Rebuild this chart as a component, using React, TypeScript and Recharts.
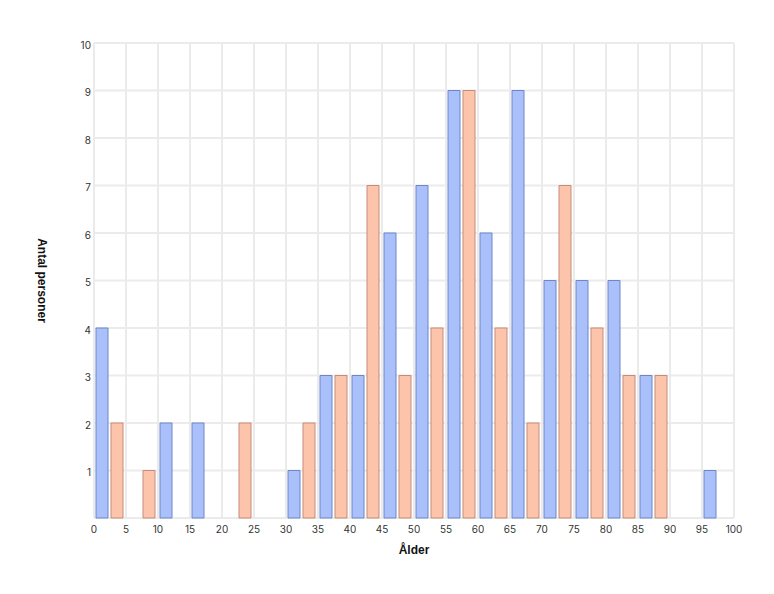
import React from "react";
import { Bar, BarChart, CartesianGrid, Label, XAxis, YAxis } from "recharts";

// age bins, 5 years each (midpoint used for the numeric axis)
const binStart = [0, 5, 10, 15, 20, 25, 30, 35, 40, 45, 50, 55, 60, 65, 70, 75, 80, 85, 90, 95];
const blueCounts = [4, 0, 2, 2, 0, 0, 1, 3, 3, 6, 7, 9, 6, 9, 5, 5, 5, 3, 0, 1];
const orangeCounts = [2, 1, 0, 0, 2, 0, 2, 3, 7, 3, 4, 9, 4, 2, 7, 4, 3, 3, 0, 0];
const xTicks = [0, 5, 10, 15, 20, 25, 30, 35, 40, 45, 50, 55, 60, 65, 70, 75, 80, 85, 90, 95, 100];
const yTicks = [0, 1, 2, 3, 4, 5, 6, 7, 8, 9, 10];

const BLUE = "#aac0fa";
const BLUE_EDGE = "#6e86c8";
const ORANGE = "#fdc4ac";
const ORANGE_EDGE = "#c68b78";
const GRID = "#ebebeb";
const TICK = "#333";
const FONT = "Inter, Roboto, sans-serif";

const rows = binStart.map((s, i) => ({
  mid: s + 2.5,
  a: blueCounts[i],
  b: orangeCounts[i],
}));

const xTickStyle = { fill: TICK, fontSize: 10, fontFamily: FONT };
const yTickStyle = { fill: TICK, fontSize: 10, fontFamily: FONT, dy: 2 };

export default function App() {
  return (
    <div style={{ position: "absolute", left: 0, top: 0, background: "#fff" }}>
      <BarChart
        width={774}
        height={594}
        data={rows}
        margin={{ top: 43, right: 40, bottom: 36, left: 20 }}
        barSize={12}
        barGap={3}
      >
        <CartesianGrid stroke={GRID} strokeWidth={2} />
        <XAxis
          dataKey="mid"
          type="number"
          domain={[0, 100]}
          ticks={xTicks}
          interval={0}
          axisLine={false}
          tickLine={false}
          tickSize={0}
          tickMargin={8}
          height={40}
          tick={xTickStyle}
        >
          <Label
            content={({ viewBox }: any) => (
              <text
                x={viewBox.x + viewBox.width / 2}
                y={554}
                textAnchor="middle"
                fontFamily="'Liberation Sans', Arial, sans-serif"
                fontWeight="bold"
                fontSize={12}
                fill="#111"
              >
                Ålder
              </text>
            )}
          />
        </XAxis>
        <YAxis
          type="number"
          domain={[0, 10]}
          ticks={yTicks}
          interval={0}
          axisLine={false}
          tickLine={false}
          tickSize={0}
          tickMargin={3}
          width={74}
          tick={yTickStyle}
          tickFormatter={(v: number) => (v === 0 ? "" : String(v))}
        >
          <Label
            content={({ viewBox }: any) => {
              const cy = viewBox.y + viewBox.height / 2;
              return (
                <text
                  x={42}
                  y={cy}
                  transform={`rotate(90 42 ${cy})`}
                  textAnchor="middle"
                  dominantBaseline="central"
                  fontFamily="'Liberation Sans', Arial, sans-serif"
                  fontWeight="bold"
                  fontSize={12}
                  fill="#111"
                >
                  Antal personer
                </text>
              );
            }}
          />
        </YAxis>
        <Bar dataKey="a" fill={BLUE} stroke={BLUE_EDGE} strokeWidth={1} isAnimationActive={false} />
        <Bar dataKey="b" fill={ORANGE} stroke={ORANGE_EDGE} strokeWidth={1} isAnimationActive={false} />
      </BarChart>
    </div>
  );
}
